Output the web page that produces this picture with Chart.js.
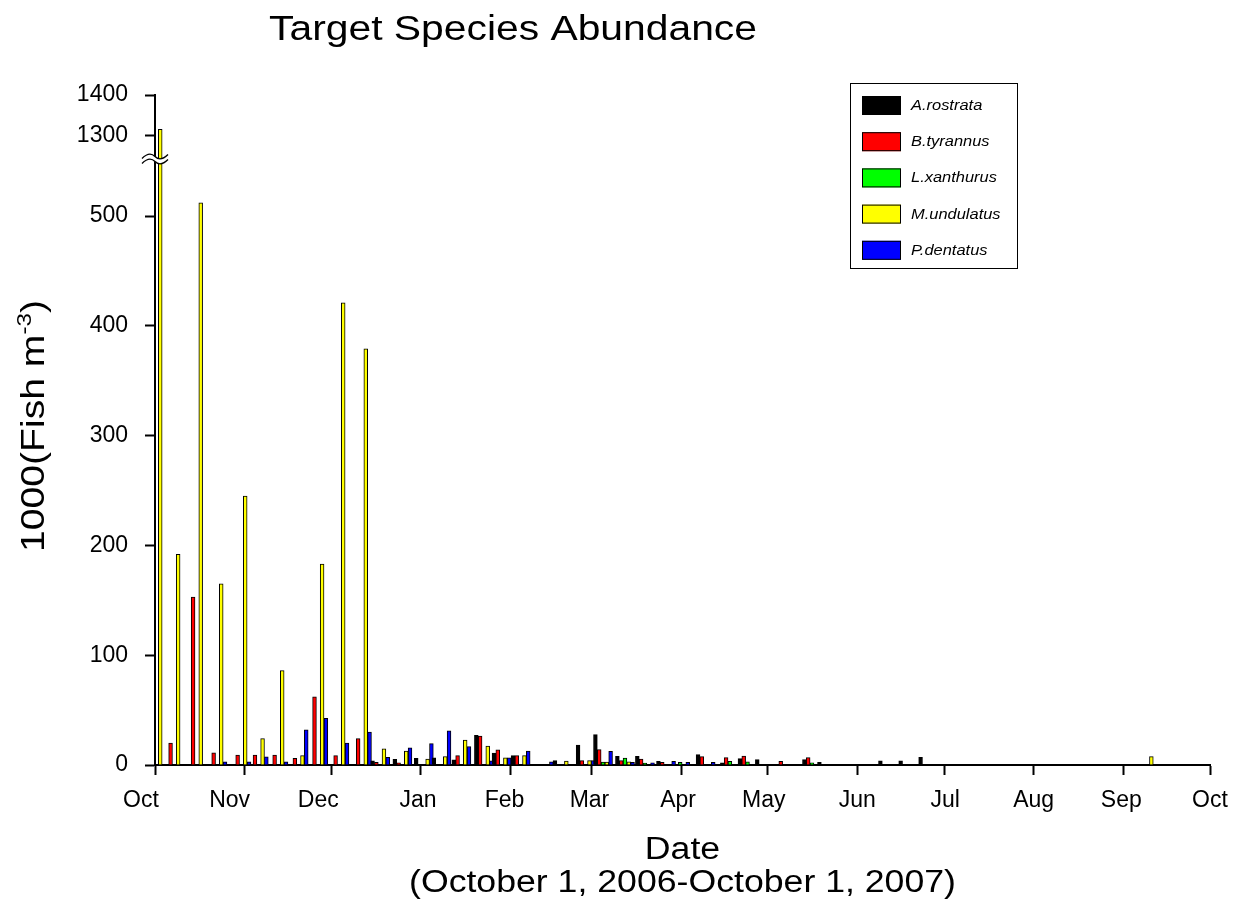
<!DOCTYPE html>
<html>
<head>
<meta charset="utf-8">
<title>Target Species Abundance</title>
<script src="https://cdn.jsdelivr.net/npm/chart.js@4.4.0/dist/chart.umd.min.js"></script>
<style>
  html, body { margin: 0; padding: 0; background: #fff; }
  #wrap { position: relative; width: 1240px; height: 905px; }
</style>
</head>
<body>
<div id="wrap"><canvas id="abundance" width="1240" height="905"></canvas></div>
<script>
// sampling dates as days after October 1, 2006
const sampleDays = [0.5, 6.7, 14.5, 21.6, 29.9, 35.9, 42.7, 49.7, 56.5, 63.8,
  71.6, 77.9, 85.6, 93, 99.1, 106, 113.8, 119.9, 126.5, 134.5,
  141, 149, 155, 162.6, 169.5, 176.8, 181.7, 190.5, 198.9, 205,
  211, 217.8, 227.3, 232.5, 253.6, 260.6, 267.5, 343.4];

const species = ['A.rostrata', 'B.tyrannus', 'L.xanthurus', 'M.undulatus', 'P.dentatus'];
const speciesColors = ['#000000', '#ff0000', '#00ff00', '#ffff00', '#0000ff'];

// abundance per sample, 1000(Fish m-3); null = none caught
const rostrata = [null, null, null, null, null, null, null, null, null, null,
  null, 3.9, 5.1, 6, 6.6, 4.8, 27, 10.9, 8.5, null,
  4, 18.2, 27.6, 7.9, 7.9, 3.3, null, 9.4, 2, 5.8,
  4.9, null, 4.9, 2.4, 3.9, 3.9, 6.9, null];
const tyrannus = [null, 20, 153, 11, 9, 9, 9, 6, 62, 8.5,
  24, 2.4, 2, null, null, 8.5, 26.4, 13.9, 8.5, null,
  null, 4, 14, 4, 5.5, 2.4, null, 7.6, 6.7, 8.2,
  null, 3.3, 6.7, null, null, null, null, null];
const xanthurus = [null, null, null, null, null, null, null, null, null, null,
  null, null, null, null, null, null, null, null, null, null,
  null, null, 2.7, 6.4, 1.8, null, 2.4, null, 3.3, 3,
  null, null, 2, null, null, null, null, null];
const undulatus = [1316, 192, 512, 165, 245, 24, 86, 8.5, 183, 421,
  379, 14.8, 12.7, 5.4, 7.6, 22.8, 17.3, 6.6, 8.5, null,
  3.6, 4, 2.7, 3, null, null, null, null, null, null,
  null, null, null, null, null, null, null, 7.6];
const dentatus = [null, null, null, 3, 3, 7.5, 3, 32, 42.5, 20,
  30, 7, 15.7, 19.4, 31.2, 16.7, 3.9, 6.6, 12.7, 3,
  null, 4, 12.4, 2.4, 2, 3.3, 2.4, 2.4, null, null,
  null, null, null, null, null, null, null, null];
const speciesValues = [rostrata, tyrannus, xanthurus, undulatus, dentatus];

// first day of each month on the date axis
const monthDays = [0, 31, 61, 92, 123, 151, 182, 212, 243, 273, 304, 335, 365];
const monthLabels = ['Oct', 'Nov', 'Dec', 'Jan', 'Feb', 'Mar', 'Apr', 'May', 'Jun', 'Jul', 'Aug', 'Sep', 'Oct'];
const yTicks = [0, 100, 200, 300, 400, 500, 1300, 1400];

const FONT = '"Liberation Sans", Arial, sans-serif';
const STRETCH = 1.15; // the headings are set a bit wide
// month names sit a little left of their tick in the early months
const monthNudge = [-14, -15, -13, -3, -6, -2, -3, -4, 0, 1, 0, -2, 0];

// y axis with a gap between the low segment and the single huge catch
const LOW_MAX = 552;
const HIGH_MIN = 1243;
const HIGH_MAX = 1400;
const LOW_SHARE = 606 / 670;

class BrokenLinearScale extends Chart.LinearScale {
  static id = 'brokenLinear';
  static defaults = {};

  determineDataLimits() {
    this.min = 0;
    this.max = HIGH_MAX;
  }
  buildTicks() {
    return yTicks.map(v => ({ value: v }));
  }
  breakPixel() {
    return this.bottom - LOW_SHARE * (this.bottom - this.top);
  }
  getPixelForValue(value) {
    if (value === null || isNaN(value)) return NaN;
    const yb = this.breakPixel();
    if (value <= LOW_MAX) {
      return this.bottom - value / LOW_MAX * (this.bottom - yb);
    }
    return yb - (value - HIGH_MIN) / (HIGH_MAX - HIGH_MIN) * (yb - this.top);
  }
  getValueForPixel(pixel) {
    const yb = this.breakPixel();
    if (pixel >= yb) return (this.bottom - pixel) / (this.bottom - yb) * LOW_MAX;
    return HIGH_MIN + (yb - pixel) / (yb - this.top) * (HIGH_MAX - HIGH_MIN);
  }
}
Chart.register(BrokenLinearScale);

// draws a run of [text, size, rise] pieces centred on 0, widened by STRETCH
function drawRuns(ctx, runs, style) {
  let total = 0;
  runs.forEach(r => {
    ctx.font = style + r[1] + 'px ' + FONT;
    r.w = ctx.measureText(r[0]).width;
    total += r.w;
  });
  ctx.save();
  ctx.scale(STRETCH, 1);
  let x = -total / 2;
  ctx.textAlign = 'left';
  runs.forEach(r => {
    ctx.font = style + r[1] + 'px ' + FONT;
    ctx.fillText(r[0], x, -(r[2] || 0));
    x += r.w;
  });
  ctx.restore();
}

// title, axis titles, month names, axis break and the boxed legend
const decorations = {
  id: 'decorations',
  afterDraw(chart) {
    const ctx = chart.ctx;
    const xScale = chart.scales.x;
    const yScale = chart.scales.y;
    const area = chart.chartArea;
    const midX = (area.left + area.right) / 2;
    ctx.save();
    ctx.fillStyle = '#000';
    ctx.textBaseline = 'alphabetic';

    ctx.save();
    ctx.translate(513, 40);
    drawRuns(ctx, [['Target Species Abundance', 35.5]], '');
    ctx.restore();

    ctx.save();
    ctx.translate(midX, 859);
    drawRuns(ctx, [['Date', 31]], '');
    ctx.restore();
    ctx.save();
    ctx.translate(midX, 892);
    drawRuns(ctx, [['(October 1, 2006-October 1, 2007)', 31]], '');
    ctx.restore();

    // month names under the tick marks
    ctx.font = '23px ' + FONT;
    ctx.textAlign = 'center';
    ctx.textBaseline = 'middle';
    monthDays.forEach((d, i) => {
      ctx.fillText(monthLabels[i], xScale.getPixelForValue(d) + monthNudge[i], area.bottom + 36);
    });
    ctx.textBaseline = 'alphabetic';

    // rotated y title with superscript exponent
    ctx.save();
    ctx.translate(44, 426);
    ctx.rotate(-Math.PI / 2);
    drawRuns(ctx, [['1000(Fish m', 34], ['-3', 21, 13], [')', 34]], '');
    ctx.restore();

    // break marks across the axis and the first bar
    const yb = yScale.breakPixel();
    const x0 = area.left - 13;
    const x1 = area.left + 13;
    const wave = (off) => {
      ctx.moveTo(x0, yb + off + 2);
      ctx.bezierCurveTo(x0 + 6, yb + off - 4, x0 + 10, yb + off - 3, (x0 + x1) / 2, yb + off);
      ctx.bezierCurveTo(x1 - 10, yb + off + 3, x1 - 6, yb + off + 4, x1, yb + off - 2);
    };
    ctx.beginPath();
    wave(-2.5);
    ctx.lineTo(x1, yb + 0.5);
    ctx.bezierCurveTo(x1 - 6, yb + 6.5, x1 - 10, yb + 5.5, (x0 + x1) / 2, yb + 2.5);
    ctx.bezierCurveTo(x0 + 10, yb - 0.5, x0 + 6, yb - 1.5, x0, yb + 4.5);
    ctx.closePath();
    ctx.fillStyle = '#fff';
    ctx.fill();
    ctx.beginPath();
    wave(-2.5);
    wave(2.5);
    ctx.strokeStyle = '#000';
    ctx.lineWidth = 1.3;
    ctx.stroke();

    // legend
    ctx.lineWidth = 1;
    ctx.strokeStyle = '#000';
    ctx.strokeRect(850.5, 83.5, 167, 185);
    ctx.textBaseline = 'middle';
    chart.data.datasets.forEach((ds, i) => {
      const top = 96 + i * 36.2;
      ctx.fillStyle = ds.backgroundColor;
      ctx.fillRect(862, top, 39, 19);
      ctx.strokeRect(862.5, top + 0.5, 38, 18);
      ctx.fillStyle = '#000';
      ctx.save();
      ctx.translate(911, top + 10);
      ctx.scale(STRETCH, 1);
      ctx.font = 'italic 14.3px ' + FONT;
      ctx.textAlign = 'left';
      ctx.fillText(ds.label, 0, 0);
      ctx.restore();
    });
    ctx.restore();
  }
};

const datasets = species.map((name, i) => ({
  label: name,
  data: sampleDays.map((d, j) => ({ x: d, y: speciesValues[i][j] })),
  backgroundColor: speciesColors[i],
  borderColor: '#000000',
  borderWidth: 1,
  barThickness: 3.8,
  grouped: true
}));

new Chart(document.getElementById('abundance'), {
  type: 'bar',
  data: { datasets },
  options: {
    responsive: false,
    animation: false,
    layout: { padding: { top: 95, right: 30, left: 0, bottom: 0 } },
    plugins: {
      legend: { display: false },
      tooltip: { enabled: false },
      title: { display: false }
    },
    scales: {
      x: {
        type: 'linear',
        min: 0,
        max: 365,
        offset: false,
        afterBuildTicks: scale => { scale.ticks = monthDays.map(v => ({ value: v })); },
        afterFit: scale => { scale.height = 140; },
        ticks: { display: false, autoSkip: false, maxRotation: 0 },
        grid: {
          offset: false,
          drawOnChartArea: false,
          drawTicks: true,
          tickLength: 10,
          tickWidth: 2,
          tickColor: '#000'
        },
        border: { display: true, color: '#000', width: 2 }
      },
      y: {
        type: 'brokenLinear',
        afterFit: scale => { scale.width = 155; },
        ticks: {
          autoSkip: false,
          padding: 17,
          color: '#000',
          font: { family: FONT, size: 23 },
          callback: v => String(v)
        },
        grid: {
          drawOnChartArea: false,
          drawTicks: true,
          tickLength: 10,
          tickWidth: 2,
          tickColor: '#000'
        },
        border: { display: true, color: '#000', width: 2 }
      }
    }
  },
  plugins: [decorations]
});
</script>
</body>
</html>
